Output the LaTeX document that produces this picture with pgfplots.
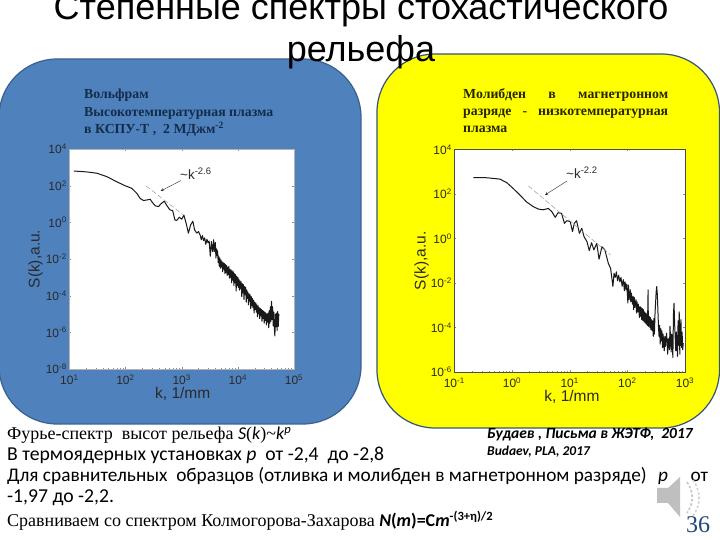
\documentclass[border=0pt]{standalone}
\usepackage{pgfplots}
\usepackage{pgfplotstable}
\usepackage{fontspec}
\pgfplotsset{compat=1.18}
\setmainfont{Liberation Sans}
\newfontfamily\serif{Liberation Serif}
\newfontfamily\calibri{Carlito}
\definecolor{panelblue}{HTML}{4F81BD}
\definecolor{panelyellow}{RGB}{255,255,0}
\definecolor{navy}{HTML}{1F497D}
\definecolor{tickc}{HTML}{2A2A2A}
% log10 k, log10 S
\pgfplotstableread{
lgk lgS
1.08 2.80
1.31 2.75
1.49 2.68
1.67 2.49
1.84 2.22
1.99 2.00
2.11 1.86
2.20 1.59
2.26 1.31
2.32 1.19
2.38 1.22
2.44 1.26
2.48 1.08
2.53 0.90
2.59 0.86
2.63 1.01
2.69 1.15
2.73 0.95
2.79 0.68
2.84 0.64
2.88 0.13
2.91 0.10
2.96 0.28
3.00 0.17
3.04 0.39
3.08 -0.05
3.12 -0.59
3.16 -0.14
3.20 0.06
3.23 -0.41
3.27 -0.59
3.30 -0.50
3.33 -0.70
3.35 -0.95
3.37 -0.72
3.39 -1.00
3.41 -0.85
3.43 -1.20
3.45 -0.92
3.47 -1.12
3.49 -1.02
3.51 -1.85
3.53 -1.05
3.55 -1.60
3.57 -0.95
3.58 -1.60
3.60 -1.10
3.61 -1.95
3.62 -1.45
3.63 -1.80
3.64 -1.55
3.65 -2.20
3.66 -1.85
3.67 -2.40
3.68 -1.95
3.69 -2.50
3.70 -2.05
3.71 -2.45
3.72 -2.15
3.73 -2.70
3.74 -2.20
3.75 -2.55
3.76 -2.25
3.77 -2.80
3.78 -2.30
3.79 -2.75
3.80 -2.35
3.81 -2.90
3.82 -2.45
3.83 -2.85
3.84 -2.40
3.85 -3.05
3.86 -2.55
3.87 -3.00
3.88 -2.60
3.89 -3.30
3.90 -2.65
3.91 -3.15
3.92 -2.70
3.93 -3.45
3.94 -2.80
3.95 -3.30
3.96 -2.85
3.97 -3.75
3.98 -2.95
3.99 -3.45
4.00 -3.00
4.01 -3.55
4.02 -3.10
4.03 -3.70
4.04 -3.20
4.05 -3.60
4.06 -3.25
4.07 -4.05
4.08 -3.35
4.09 -3.85
4.10 -3.40
4.11 -4.20
4.12 -3.50
4.13 -3.95
4.14 -3.55
4.15 -4.35
4.16 -3.70
4.17 -4.15
4.18 -3.80
4.19 -4.50
4.20 -3.90
4.21 -4.30
4.22 -3.95
4.23 -4.70
4.24 -4.05
4.25 -4.55
4.26 -4.15
4.27 -4.65
4.28 -4.25
4.29 -4.95
4.30 -4.35
4.31 -4.75
4.32 -4.40
4.33 -4.90
4.34 -4.50
4.35 -5.15
4.36 -4.55
4.37 -5.00
4.38 -4.65
4.39 -5.25
4.40 -4.70
4.41 -5.10
4.42 -4.75
4.43 -5.40
4.44 -4.80
4.45 -5.25
4.46 -4.85
4.47 -5.50
4.48 -4.90
4.49 -5.35
4.50 -4.95
4.51 -5.60
4.52 -5.00
4.53 -5.45
4.54 -4.95
4.55 -5.75
4.56 -4.80
4.57 -5.50
4.58 -4.60
4.59 -5.40
4.60 -4.31
4.61 -5.30
4.62 -4.60
4.63 -5.65
4.64 -4.90
4.65 -5.85
4.66 -6.20
4.67 -5.00
4.68 -5.70
4.69 -4.95
4.70 -5.90
4.71 -4.86
4.72 -5.67
4.73 -5.00
}\tungsten
\pgfplotstableread{
lgk lgS
-0.67 2.74
-0.44 2.73
-0.21 2.67
-0.09 2.51
0.02 2.25
0.14 1.95
0.25 1.65
0.37 1.43
0.46 1.32
0.54 1.29
0.63 1.35
0.69 1.21
0.75 0.95
0.80 1.16
0.86 1.13
0.91 0.68
0.95 0.80
1.01 0.76
1.05 0.31
1.08 0.68
1.12 0.80
1.17 0.23
1.21 0.46
1.25 0.08
1.30 -0.14
1.34 -0.54
1.38 -0.19
1.42 -0.51
1.47 -0.22
1.51 -0.93
1.56 -0.37
1.61 -0.51
1.67 -1.11
1.71 -1.34
1.75 -2.16
1.77 -1.56
1.79 -1.75
1.81 -1.50
1.83 -1.90
1.85 -1.65
1.87 -1.95
1.89 -1.75
1.91 -2.15
1.93 -1.85
1.95 -2.35
1.96 -1.95
1.98 -2.30
1.99 -2.05
2.01 -2.90
2.02 -2.10
2.03 -2.75
2.05 -2.30
2.06 -2.85
2.07 -2.45
2.09 -2.95
2.10 -2.60
2.11 -3.20
2.12 -2.65
2.13 -3.10
2.15 -2.75
2.16 -3.35
2.17 -2.85
2.18 -3.30
2.19 -2.95
2.21 -3.55
2.22 -3.05
2.23 -3.50
2.24 -3.10
2.25 -3.65
2.26 -3.15
2.27 -3.70
2.28 -3.20
2.29 -3.75
2.30 -3.30
2.31 -3.80
2.32 -3.35
2.33 -3.85
2.34 -3.40
2.35 -3.90
2.36 -2.31
2.365 -3.95
2.38 -3.50
2.39 -4.00
2.40 -3.55
2.41 -4.10
2.42 -3.65
2.43 -4.15
2.44 -3.70
2.45 -4.40
2.46 -3.60
2.47 -4.30
2.48 -3.40
2.49 -2.90
2.50 -2.40
2.51 -2.16
2.52 -2.50
2.53 -3.20
2.54 -3.95
2.55 -4.40
2.56 -3.90
2.57 -4.75
2.58 -4.05
2.59 -4.60
2.60 -4.15
2.61 -4.90
2.62 -4.30
2.64 -5.05
2.65 -4.40
2.66 -4.85
2.68 -4.25
2.70 -5.20
2.71 -4.50
2.73 -5.00
2.74 -3.95
2.76 -5.10
2.77 -4.30
2.79 -5.35
2.80 -3.40
2.81 -2.91
2.82 -3.80
2.84 -5.05
2.85 -4.20
2.87 -5.30
2.88 -3.70
2.89 -4.80
2.90 -3.30
2.91 -5.20
2.92 -4.10
2.93 -3.65
2.94 -4.90
2.95 -4.20
2.96 -5.00
2.97 -4.70
}\molybdenum
\pgfplotstableread{
lgk lgS
2.365 1.99
3.03 0.41
}\fitA
\pgfplotstableread{
lgk lgS
0.283 2.36
1.711 -0.74
}\fitB
\pgfplotsset{
 panelaxis/.style={
  scale only axis,
  anchor=south west,
  axis background/.style={fill=white},
  axis line style={draw=black!30,line width=0.4pt},
  tick style={draw=black!45,line width=0.3pt},
  major tick length=2pt, minor tick length=1pt,
  tick label style={font=\fontsize{12}{13}\selectfont,text=tickc},
  xlabel style={font=\fontsize{15.5}{16}\selectfont,text=tickc},
  ylabel style={font=\fontsize{15.5}{16}\selectfont,text=tickc},
  xticklabel style={yshift=-2pt},
  yticklabel style={xshift=1pt},
  clip=true,
 },
}
\tikzset{
 speccurve/.style={black!90,line width=1pt,line join=round},
 specfit/.style={gray!80,line width=0.5pt,dash pattern=on 5pt off 2.5pt},
}
\begin{document}
\begin{tikzpicture}[x=1pt,y=1pt]
\path[use as bounding box] (0,0) rectangle (720,540);
\clip (0,0) rectangle (720,540);
\fill[white] (0,0) rectangle (720,540);
% panels
\draw[panelblue!75!black,line width=1.2pt,fill=panelblue,rounded corners=58pt] (-1,116) rectangle (361,481);
\draw[panelblue!65!black,line width=1.2pt,fill=panelyellow,rounded corners=58pt] (377,112) rectangle (719.5,486);
% left axis
\begin{loglogaxis}[panelaxis,at={(69.3pt,171pt)},width=224.7pt,height=220pt,
 xmin=1e1,xmax=1e5,ymin=1e-8,ymax=1e4,
 xtick={1e1,1e2,1e3,1e4,1e5},
 xticklabels={10\textsuperscript{1},10\textsuperscript{2},10\textsuperscript{3},10\textsuperscript{4},10\textsuperscript{5}},
 ytick={1e-8,1e-6,1e-4,1e-2,1e0,1e2,1e4},
 yticklabels={10\textsuperscript{-8},10\textsuperscript{-6},10\textsuperscript{-4},10\textsuperscript{-2},10\textsuperscript{0},10\textsuperscript{2},10\textsuperscript{4}},
 yminorticks=false,
 xlabel={k, 1/mm},ylabel={S(k),a.u.},
 xlabel style={at={(axis description cs:0.505,0)},anchor=north,yshift=-15pt},
 ylabel style={at={(axis description cs:0,0.5)},anchor=south,yshift=23pt},
]
\addplot[speccurve] table[x expr=10^\thisrow{lgk},y expr=10^\thisrow{lgS}] {\tungsten};
\addplot[specfit] table[x expr=10^\thisrow{lgk},y expr=10^\thisrow{lgS}] {\fitA};
\end{loglogaxis}
% right axis
\begin{loglogaxis}[panelaxis,at={(454.3pt,168pt)},width=230.7pt,height=222.5pt,
 xmin=1e-1,xmax=1e3,ymin=1e-6,ymax=1e4,
 xtick={1e-1,1e0,1e1,1e2,1e3},
 xticklabels={10\textsuperscript{-1},10\textsuperscript{0},10\textsuperscript{1},10\textsuperscript{2},10\textsuperscript{3}},
 ytick={1e-6,1e-4,1e-2,1e0,1e2,1e4},
 yticklabels={10\textsuperscript{-6},10\textsuperscript{-4},10\textsuperscript{-2},10\textsuperscript{0},10\textsuperscript{2},10\textsuperscript{4}},
 yminorticks=false,
 axis line style={draw=black!70,line width=0.4pt},
 xlabel={k, 1/mm},ylabel={S(k),a.u.},
 xlabel style={at={(axis description cs:0.51,0)},anchor=north,yshift=-15pt},
 ylabel style={at={(axis description cs:0,0.5)},anchor=south,yshift=22pt},
]
\addplot[speccurve] table[x expr=10^\thisrow{lgk},y expr=10^\thisrow{lgS}] {\molybdenum};
\addplot[specfit] table[x expr=10^\thisrow{lgk},y expr=10^\thisrow{lgS}] {\fitB};
\end{loglogaxis}
% annotations
\node[anchor=base west,inner sep=0pt,text=tickc,font=\fontsize{13.5}{14}\selectfont] at (180,360) {\textasciitilde k\textsuperscript{-2.6}};
\draw[-stealth,tickc,line width=0.4pt] (181,359.5) -- (160.7,349);
\node[anchor=base west,inner sep=0pt,text=tickc,font=\fontsize{13.5}{14}\selectfont] at (566,361) {\textasciitilde k\textsuperscript{-2.2}};
\draw[-stealth,tickc,line width=0.4pt] (567,359) -- (545,345);
% panel captions
\begin{scope}[every node/.style={anchor=base west,inner sep=0pt,font=\serif\bfseries\fontsize{13.8}{14}\selectfont}]
\node[text=navy!60!black] at (84,441) {Вольфрам};
\node[text=navy!60!black] at (84,423) {Высокотемпературная плазма};
\node[text=navy!60!black] at (84,406) {в КСПУ-Т ,\ \ 2 МДжм\textsuperscript{-2}};
\node[text=black!85!panelyellow] at (463,441) {\hbox to 205pt{Молибден\hfil в\hfil магнетронном}};
\node[text=black!85!panelyellow] at (463,424) {\hbox to 205pt{разряде\hfil -\hfil низкотемпературная}};
\node[text=black!85!panelyellow] at (463,407) {плазма};
\end{scope}
% title
\begin{scope}[every node/.style={anchor=base,inner sep=0pt,font=\fontsize{36}{37}\selectfont}]
\node at (361,520) {Степенные спектры стохастического};
\node at (361,478) {рельефа};
\end{scope}
% bottom text
\begin{scope}[every node/.style={anchor=base west,inner sep=0pt}]
\node[font=\serif\fontsize{18}{19}\selectfont] at (7,100) {Фурье-спектр\ \ высот рельефа {\calibri\itshape S}({\calibri\itshape k})\textasciitilde{\calibri\itshape k\textsuperscript{p}}};
\node[font=\calibri\fontsize{19.7}{21}\selectfont] at (7,79) {В термоядерных установках {\itshape p}\ \ от -2,4\ \ до -2,8};
\node[font=\calibri\fontsize{19.3}{21}\selectfont] at (7,58) {\hbox to 701pt{Для сравнительных\ \ образцов (отливка и молибден в магнетронном разряде)\hfil {\itshape p}\hfil\hfil от}};
\node[font=\calibri\fontsize{19.7}{21}\selectfont] at (7,37) {-1,97 до -2,2.};
\node[font=\serif\fontsize{18}{19}\selectfont] at (7,13) {Сравниваем со спектром Колмогорова-Захарова {\calibri\bfseries\itshape N}{\calibri\bfseries(}{\calibri\bfseries\itshape m}{\calibri\bfseries)=C}{\calibri\bfseries\itshape m}\textsuperscript{\calibri\bfseries-(3+η)/2}};
\node[font=\calibri\bfseries\itshape\fontsize{15.5}{16}\selectfont] at (487,101) {Будаев , Письма в ЖЭТФ,\ \ 2017};
\node[font=\calibri\bfseries\itshape\fontsize{13.5}{14}\selectfont] at (487,84) {Budaev, PLA, 2017};
\node[font=\serif\fontsize{24}{25}\selectfont,text=navy] at (686,7) {36};
\end{scope}
% speaker icon
\fill[gray!50] (657,52) -- (657,37) -- (668,37) -- (680,23) -- (680,63) -- (668,52) -- cycle;
\draw[gray!45,line width=1.6pt,dash pattern=on 2.5pt off 2pt] (687,58) to[bend left=35] (687,27);
\draw[gray!35,line width=1.6pt,dash pattern=on 2.5pt off 2pt] (693,60) to[bend left=35] (693,24);
\end{tikzpicture}
\end{document}
